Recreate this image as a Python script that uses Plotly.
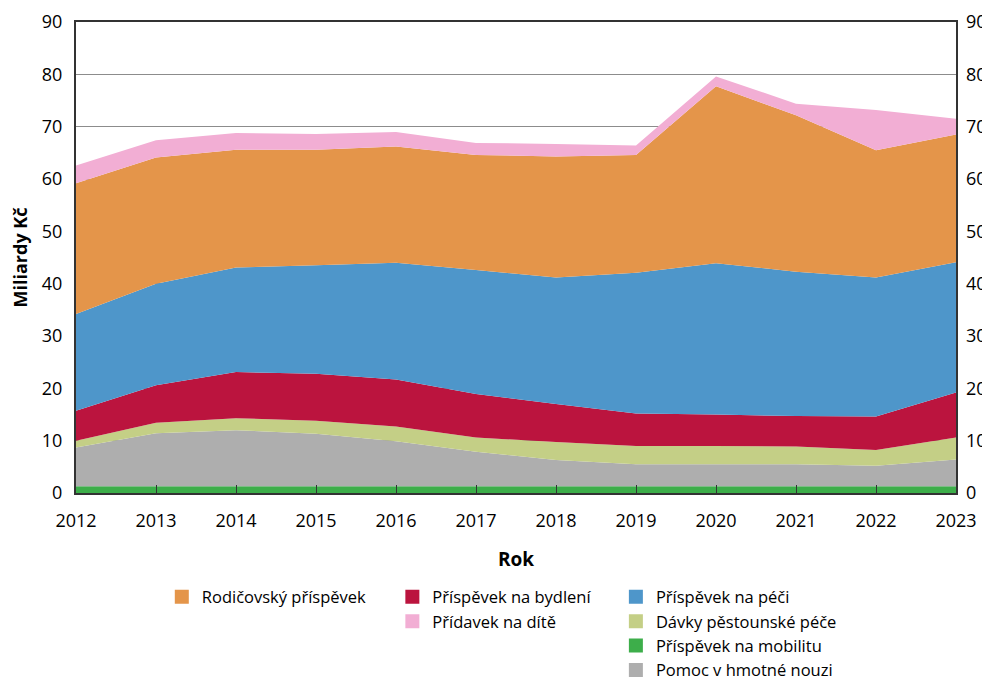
import plotly.graph_objects as go

years = list(range(2012, 2024))

mobilita = [1.3, 1.3, 1.3, 1.3, 1.3, 1.3, 1.3, 1.3, 1.3, 1.3, 1.3, 1.3]
hmotna_nouze = [7.4, 10.1, 10.7, 10.0, 8.6, 6.6, 5.0, 4.2, 4.2, 4.2, 3.9, 5.1]
pestounska = [1.3, 2.0, 2.3, 2.5, 2.8, 2.7, 3.45, 3.5, 3.5, 3.4, 3.0, 4.2]
bydleni = [5.7, 7.2, 8.8, 9.0, 9.0, 8.3, 7.25, 6.2, 6.0, 5.8, 6.4, 8.6]
pece = [18.5, 19.4, 20.0, 20.7, 22.3, 23.7, 24.2, 26.9, 28.9, 27.6, 26.6, 24.9]
rodicovsky = [25.0, 24.1, 22.5, 22.1, 22.2, 22.0, 23.1, 22.5, 33.8, 29.9, 24.3, 24.4]
pridavek = [3.4, 3.3, 3.2, 3.0, 2.8, 2.3, 2.4, 1.8, 1.9, 2.2, 7.7, 3.0]

# (name, values, colour, legend column) in stacking order bottom -> top
series = [
    ("Příspěvek na mobilitu", mobilita, "#3DAE4A", "legend3"),
    ("Pomoc v hmotné nouzi", hmotna_nouze, "#AEAEAE", "legend3"),
    ("Dávky pěstounské péče", pestounska, "#C4CF86", "legend3"),
    ("Příspěvek na bydlení", bydleni, "#BB143E", "legend2"),
    ("Příspěvek na péči", pece, "#4E96CA", "legend3"),
    ("Rodičovský příspěvek", rodicovsky, "#E4954A", "legend"),
    ("Přídavek na dítě", pridavek, "#F2AED4", "legend2"),
]

legend_order = [
    "Rodičovský příspěvek",
    "Příspěvek na bydlení", "Přídavek na dítě",
    "Příspěvek na péči", "Dávky pěstounské péče",
    "Příspěvek na mobilitu", "Pomoc v hmotné nouzi",
]

FONT = "Open Sans"
fig = go.Figure()

for name, vals, color, lg in series:
    fig.add_trace(go.Scatter(
        x=years, y=vals, name=name, mode="none",
        stackgroup="one", fillcolor=color, showlegend=False,
        hoverinfo="x+y+name",
    ))

info = {s[0]: s for s in series}
for name in legend_order:
    _, _, color, lg = info[name]
    fig.add_trace(go.Scatter(
        x=[None], y=[None], mode="markers", name=name,
        marker=dict(symbol="square", size=14, color=color),
        legend=lg, showlegend=True,
    ))

# invisible trace on secondary axis for right tick labels
fig.add_trace(go.Scatter(x=[2012], y=[0], yaxis="y2", mode="markers",
                         marker=dict(opacity=0), showlegend=False, hoverinfo="skip"))

legend_common = dict(
    orientation="v", yanchor="top", xanchor="left",
    font=dict(family=FONT, size=16.5, color="#000000"),
    traceorder="normal", bgcolor="rgba(0,0,0,0)", itemwidth=30,
    tracegroupgap=0,
)

LY = -0.1836
fig.update_layout(
    width=982, height=674,
    margin=dict(l=68, r=34, t=14, b=189, autoexpand=False),
    paper_bgcolor="white", plot_bgcolor="white",
    font=dict(family=FONT, size=18, color="#000000"),
    xaxis=dict(
        range=[2012, 2023], tickmode="array", tickvals=years,
        ticktext=[str(y) for y in years],
        ticks="inside", ticklen=8, tickcolor="#333333", tickwidth=1,
        showline=True, linecolor="#333333", linewidth=2, mirror=True,
        showgrid=False, zeroline=False, ticklabelstandoff=10,
        tickfont=dict(family=FONT, size=18),
        title=dict(text="<b>Rok</b>", font=dict(family=FONT, size=19), standoff=22),
    ),
    yaxis=dict(
        range=[0, 90], tickvals=list(range(0, 91, 10)),
        showgrid=True, gridcolor="#8C8C8C", gridwidth=1,
        showline=True, linecolor="#333333", linewidth=2, mirror=True,
        zeroline=False, ticks="", ticklabelstandoff=8,
        tickfont=dict(family=FONT, size=18),
        title=dict(text="<b>Miliardy Kč</b>", font=dict(family=FONT, size=18), standoff=12),
    ),
    yaxis2=dict(
        range=[0, 90], tickvals=list(range(0, 91, 10)),
        overlaying="y", side="right", showgrid=False, zeroline=False,
        ticks="", tickfont=dict(family=FONT, size=18), ticklabelstandoff=9,
    ),
    legend=dict(x=0.0975, y=LY, **legend_common),
    legend2=dict(x=0.3595, y=LY, **legend_common),
    legend3=dict(x=0.6135, y=LY, **legend_common),
)

fig.write_html("out.html")
